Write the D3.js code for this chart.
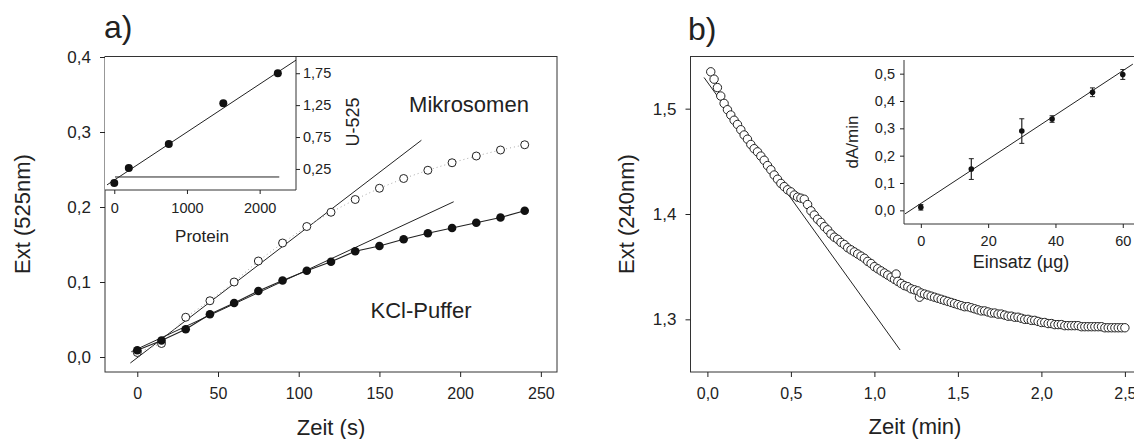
<!DOCTYPE html>
<html>
<head>
<meta charset="utf-8">
<script src="https://cdn.jsdelivr.net/npm/d3@7"></script>
<style>
  body { margin: 0; background: #fff; }
  text { font-family: "Liberation Sans", Arial, sans-serif; fill: #222; }
</style>
</head>
<body>
<script>
// ---- data: panel a (main) ----
const zeitA = [0, 15, 30, 45, 60, 75, 90, 105, 120, 135, 150, 165, 180, 195, 210, 225, 240];
const mikrosomen = [0.006, 0.018, 0.053, 0.075, 0.100, 0.128, 0.152, 0.174, 0.193, 0.210, 0.225, 0.238, 0.249, 0.259, 0.268, 0.276, 0.283];
const kclPuffer = [0.009, 0.022, 0.037, 0.057, 0.072, 0.088, 0.102, 0.115, 0.127, 0.141, 0.148, 0.157, 0.165, 0.172, 0.179, 0.186, 0.195];
const mikroFitT = [-4.3, 176];
const mikroFitV = [-0.008, 0.289];
const kclFitT = [-3.7, 196];
const kclFitV = [0.007, 0.207];

// ---- data: panel a (inset) ----
const protein = [0, 200, 750, 1500, 2250];
const u525 = [0.03, 0.265, 0.64, 1.28, 1.75];
const proteinFitX = [-100, 2500];
const proteinFitY = [0.0, 1.955];
const baselineX = [10, 2270];
const baselineY = [0.124, 0.124];

// ---- data: panel b (main) ----
const zeitB = [0.02, 0.04, 0.06, 0.08, 0.10, 0.12, 0.14, 0.16, 0.18, 0.20,
  0.22, 0.24, 0.26, 0.28, 0.30, 0.32, 0.34, 0.36, 0.38, 0.40,
  0.42, 0.44, 0.46, 0.48, 0.50, 0.52, 0.54, 0.56, 0.58, 0.60,
  0.62, 0.64, 0.66, 0.68, 0.70, 0.72, 0.74, 0.76, 0.78, 0.80,
  0.82, 0.84, 0.86, 0.88, 0.90, 0.92, 0.94, 0.96, 0.98, 1.00,
  1.02, 1.04, 1.06, 1.08, 1.10, 1.12, 1.13, 1.14, 1.16, 1.18, 1.20,
  1.22, 1.24, 1.26, 1.27, 1.28, 1.30, 1.32, 1.34, 1.36, 1.38, 1.40,
  1.42, 1.44, 1.46, 1.48, 1.50, 1.52, 1.54, 1.56, 1.58, 1.60,
  1.62, 1.64, 1.66, 1.68, 1.70, 1.72, 1.74, 1.76, 1.78, 1.80,
  1.82, 1.84, 1.86, 1.88, 1.90, 1.92, 1.94, 1.96, 1.98, 2.00,
  2.02, 2.04, 2.06, 2.08, 2.10, 2.12, 2.14, 2.16, 2.18, 2.20,
  2.22, 2.24, 2.26, 2.28, 2.30, 2.32, 2.34, 2.36, 2.38, 2.40,
  2.42, 2.44, 2.46, 2.48, 2.50];
const extB = [1.535, 1.528, 1.520, 1.512, 1.505, 1.499, 1.494, 1.489, 1.485, 1.480,
  1.475, 1.471, 1.466, 1.462, 1.459, 1.455, 1.451, 1.446, 1.442, 1.437,
  1.433, 1.429, 1.426, 1.423, 1.421, 1.418, 1.416, 1.415, 1.414, 1.409,
  1.403, 1.399, 1.395, 1.392, 1.388, 1.385, 1.381, 1.378, 1.376, 1.373,
  1.371, 1.368, 1.366, 1.364, 1.362, 1.360, 1.358, 1.355, 1.353, 1.350,
  1.348, 1.346, 1.344, 1.342, 1.340, 1.338, 1.343, 1.336, 1.334, 1.332, 1.331,
  1.329, 1.328, 1.327, 1.321, 1.325, 1.324, 1.323, 1.322, 1.321, 1.320, 1.319,
  1.318, 1.317, 1.316, 1.315, 1.314, 1.313, 1.312, 1.312, 1.311, 1.310,
  1.309, 1.308, 1.308, 1.307, 1.306, 1.306, 1.305, 1.305, 1.304, 1.303,
  1.303, 1.302, 1.302, 1.301, 1.300, 1.300, 1.299, 1.299, 1.298, 1.297,
  1.297, 1.296, 1.296, 1.295, 1.295, 1.295, 1.294, 1.294, 1.294, 1.294,
  1.294, 1.293, 1.293, 1.293, 1.293, 1.293, 1.293, 1.293, 1.292, 1.292,
  1.292, 1.292, 1.292, 1.292, 1.292];
const tangentT = [-0.02, 1.154];
const tangentV = [1.5296, 1.2709];

// ---- data: panel b (inset) ----
const einsatz = [0, 15, 30, 39, 51, 60];
const dAmin = [0.011, 0.151, 0.290, 0.334, 0.432, 0.497];
const dAminErr = [0.010, 0.038, 0.045, 0.012, 0.016, 0.018];
const einsatzFitX = [-4.7, 63.0];
const einsatzFitY = [-0.013, 0.535];

const width = 1134, height = 439;
const ink = "#222";
const loc = d3.formatLocale({ decimal: ",", thousands: "", grouping: [3], currency: ["", ""] });

const svg = d3.select("body").append("svg")
  .attr("width", width)
  .attr("height", height);

svg.append("rect").attr("width", width).attr("height", height).attr("fill", "#fff");

// helper: axis without domain line, styled ticks
function styleAxis(g, size) {
  g.select(".domain").remove();
  g.selectAll(".tick line").attr("stroke", ink);
  g.selectAll(".tick text").style("font-size", size + "px").attr("fill", ink);
}

function label(x, y, txt, size, rotate) {
  const t = svg.append("text")
    .attr("text-anchor", "middle")
    .attr("dominant-baseline", "central")
    .style("font-size", size + "px")
    .text(txt);
  if (rotate) t.attr("transform", `translate(${x},${y}) rotate(-90)`);
  else t.attr("x", x).attr("y", y);
  return t;
}

const line = (xs, ys) => d3.line().x(d => xs(d[0])).y(d => ys(d[1]));

// ================= panel a =================
const xA = d3.scaleLinear().domain([-20, 260]).range([105, 557]);
const yA = d3.scaleLinear().domain([-0.02, 0.4]).range([372, 57]);

svg.append("rect")
  .attr("x", xA.range()[0]).attr("y", 56.5)
  .attr("width", xA.range()[1] - xA.range()[0]).attr("height", 372 - 56.5)
  .attr("fill", "none").attr("stroke", "#333");

svg.append("g").attr("transform", "translate(0,372)")
  .call(d3.axisBottom(xA).tickValues([0, 50, 100, 150, 200, 250]).tickSize(5).tickPadding(11).tickFormat(d3.format("d")))
  .call(g => styleAxis(g, 16));
svg.append("g").attr("transform", "translate(105,0)")
  .call(d3.axisLeft(yA).tickValues([0, 0.1, 0.2, 0.3, 0.4]).tickSize(5).tickPadding(9).tickFormat(loc.format(".1f")))
  .call(g => styleAxis(g, 17));

// fit lines
svg.append("path")
  .datum(mikroFitT.map((t, i) => [t, mikroFitV[i]]))
  .attr("d", line(xA, yA)).attr("fill", "none").attr("stroke", ink).attr("stroke-width", 1);
svg.append("path")
  .datum(kclFitT.map((t, i) => [t, kclFitV[i]]))
  .attr("d", line(xA, yA)).attr("fill", "none").attr("stroke", ink).attr("stroke-width", 1);

// Mikrosomen: dotted link + open circles
const mikroPts = zeitA.map((t, i) => [t, mikrosomen[i]]);
svg.append("path").datum(mikroPts)
  .attr("d", line(xA, yA)).attr("fill", "none").attr("stroke", "#aaa")
  .attr("stroke-dasharray", "1,3");
svg.append("g").selectAll("circle").data(mikroPts).join("circle")
  .attr("cx", d => xA(d[0])).attr("cy", d => yA(d[1])).attr("r", 4)
  .attr("fill", "#fff").attr("stroke", ink).attr("stroke-width", 1);

// KCl-Puffer: solid link + filled circles
const kclPts = zeitA.map((t, i) => [t, kclPuffer[i]]);
svg.append("path").datum(kclPts)
  .attr("d", line(xA, yA)).attr("fill", "none").attr("stroke", ink).attr("stroke-width", 1.2);
svg.append("g").selectAll("circle").data(kclPts).join("circle")
  .attr("cx", d => xA(d[0])).attr("cy", d => yA(d[1])).attr("r", 4.3)
  .attr("fill", "#111");

label(469, 104, "Mikrosomen", 22);
label(421, 310, "KCl-Puffer", 22);

// inset a
const xI = d3.scaleLinear().domain([-100, 2500]).range([107, 296]);
const yI = d3.scaleLinear().domain([-0.08, 2.02]).range([190, 56]);

svg.append("rect").attr("x", 105).attr("y", 57).attr("width", 191).attr("height", 133).attr("fill", "#fff");
svg.append("line").attr("x1", 105).attr("x2", 296).attr("y1", 190).attr("y2", 190).attr("stroke", "#333");
svg.append("line").attr("x1", 296).attr("x2", 296).attr("y1", 56.5).attr("y2", 190).attr("stroke", "#333");

svg.append("g").attr("transform", "translate(0,190)")
  .call(d3.axisBottom(xI).tickValues([0, 1000, 2000]).tickSize(4).tickPadding(9).tickFormat(d3.format("d")))
  .call(g => styleAxis(g, 14.5));
svg.append("g").attr("transform", "translate(296,0)")
  .call(d3.axisRight(yI).tickValues([0.25, 0.75, 1.25, 1.75]).tickSize(4).tickPadding(3).tickFormat(loc.format(".2f")))
  .call(g => styleAxis(g, 14.5));

svg.append("path")
  .datum(proteinFitX.map((x, i) => [x, proteinFitY[i]]))
  .attr("d", line(xI, yI)).attr("fill", "none").attr("stroke", ink);
svg.append("path")
  .datum(baselineX.map((x, i) => [x, baselineY[i]]))
  .attr("d", line(xI, yI)).attr("fill", "none").attr("stroke", ink);
svg.append("g").selectAll("circle").data(protein.map((p, i) => [p, u525[i]])).join("circle")
  .attr("cx", d => xI(d[0])).attr("cy", d => yI(d[1])).attr("r", 4)
  .attr("fill", "#111");

label(202, 236, "Protein", 17);
label(353, 122, "U-525", 18, true);

label(22, 214, "Ext (525nm)", 22, true);
label(331, 427, "Zeit (s)", 22);
svg.append("text").attr("x", 104).attr("y", 38).style("font-size", "32px").text("a)");

// ================= panel b =================
const xB = d3.scaleLinear().domain([-0.1, 2.6]).range([690.7, 1141.6]);
const yB = d3.scaleLinear().domain([1.25, 1.55]).range([372, 56]);

svg.append("rect")
  .attr("x", 690.5).attr("y", 56.5)
  .attr("width", 1141.6 - 690.5).attr("height", 372 - 56.5)
  .attr("fill", "none").attr("stroke", "#333");

svg.append("g").attr("transform", "translate(0,372)")
  .call(d3.axisBottom(xB).tickValues([0, 0.5, 1, 1.5, 2, 2.5]).tickSize(5).tickPadding(11).tickFormat(loc.format(".1f")))
  .call(g => styleAxis(g, 16));
svg.append("g").attr("transform", "translate(690.5,0)")
  .call(d3.axisLeft(yB).tickValues([1.3, 1.4, 1.5]).tickSize(5).tickPadding(9).tickFormat(loc.format(".1f")))
  .call(g => styleAxis(g, 17));

svg.append("path")
  .datum(tangentT.map((t, i) => [t, tangentV[i]]))
  .attr("d", line(xB, yB)).attr("fill", "none").attr("stroke", ink);

svg.append("g").selectAll("circle").data(zeitB.map((t, i) => [t, extB[i]])).join("circle")
  .attr("cx", d => xB(d[0])).attr("cy", d => yB(d[1])).attr("r", 4.2)
  .attr("fill", "#fff").attr("stroke", ink).attr("stroke-width", 1);

// inset b
const xIb = d3.scaleLinear().domain([-5, 65]).range([904, 1139.6]);
const yIb = d3.scaleLinear().domain([-0.05, 0.55]).range([224, 60]);

svg.append("line").attr("x1", 904).attr("x2", 904).attr("y1", 60).attr("y2", 224).attr("stroke", "#333");
svg.append("line").attr("x1", 904).attr("x2", 1139.6).attr("y1", 224).attr("y2", 224).attr("stroke", "#333");

svg.append("g").attr("transform", "translate(0,224)")
  .call(d3.axisBottom(xIb).tickValues([0, 20, 40, 60]).tickSize(4).tickPadding(8).tickFormat(d3.format("d")))
  .call(g => styleAxis(g, 14.5));
svg.append("g").attr("transform", "translate(904,0)")
  .call(d3.axisLeft(yIb).tickValues([0, 0.1, 0.2, 0.3, 0.4, 0.5]).tickSize(4).tickPadding(5).tickFormat(loc.format(".1f")))
  .call(g => styleAxis(g, 14.5));

svg.append("path")
  .datum(einsatzFitX.map((x, i) => [x, einsatzFitY[i]]))
  .attr("d", line(xIb, yIb)).attr("fill", "none").attr("stroke", ink);

const ebar = svg.append("g").selectAll("g").data(einsatz.map((x, i) => [x, dAmin[i], dAminErr[i]])).join("g");
ebar.append("line")
  .attr("x1", d => xIb(d[0])).attr("x2", d => xIb(d[0]))
  .attr("y1", d => yIb(d[1] - d[2])).attr("y2", d => yIb(d[1] + d[2]))
  .attr("stroke", ink).attr("stroke-width", 1.2);
ebar.append("line")
  .attr("x1", d => xIb(d[0]) - 2.5).attr("x2", d => xIb(d[0]) + 2.5)
  .attr("y1", d => yIb(d[1] - d[2])).attr("y2", d => yIb(d[1] - d[2]))
  .attr("stroke", ink);
ebar.append("line")
  .attr("x1", d => xIb(d[0]) - 2.5).attr("x2", d => xIb(d[0]) + 2.5)
  .attr("y1", d => yIb(d[1] + d[2])).attr("y2", d => yIb(d[1] + d[2]))
  .attr("stroke", ink);
ebar.append("circle")
  .attr("cx", d => xIb(d[0])).attr("cy", d => yIb(d[1])).attr("r", 2.8)
  .attr("fill", "#111");

label(852, 142, "dA/min", 17, true);
label(1021, 262, "Einsatz (µg)", 18);

label(626, 214, "Ext (240nm)", 22, true);
label(915, 426, "Zeit (min)", 22);
svg.append("text").attr("x", 688).attr("y", 40).style("font-size", "32px").text("b)");
</script>
</body>
</html>
